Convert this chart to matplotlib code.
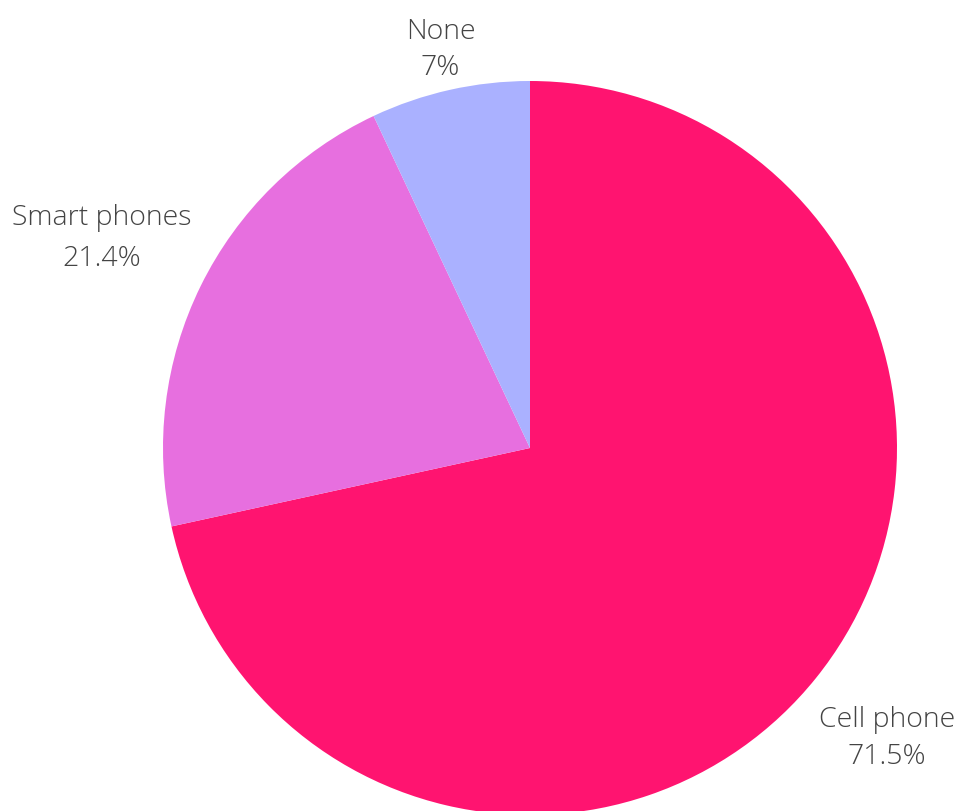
import numpy as np
import matplotlib.pyplot as plt

categories = ["Cell phone", "Smart phones", "None"]
shares = [71.5, 21.4, 7.0]
colors = ["#FF1470", "#E76FDF", "#AAB1FF"]

W, H = 958, 812
fig = plt.figure(figsize=(W / 100, H / 100), dpi=100)
ax = fig.add_axes([0, 0, 1, 1])

cx, cy, r = 530, H - 449, 367
wedges, _ = ax.pie(shares, colors=colors, startangle=90, counterclock=False,
                   center=(cx, cy), radius=r, frame=True,
                   wedgeprops=dict(linewidth=0))
ax.set_xlim(0, W)
ax.set_ylim(0, H)
ax.set_aspect("equal")
ax.axis("off")

# label placement: distance from centre (in radii), angular nudge (deg), line spacing
label_dist = [1.252, 1.300, 1.115]
label_nudge = [-0.2, 0.1, 0.0]
label_spacing = [1.43, 1.62, 1.39]
for w, name, val, d, nudge, ls in zip(wedges, categories, shares,
                                      label_dist, label_nudge, label_spacing):
    mid = np.deg2rad((w.theta1 + w.theta2) / 2 + nudge)
    x = cx + d * r * np.cos(mid)
    y = cy + d * r * np.sin(mid)
    ax.text(x, y, f"{name}\n{val:g}%", ha="center", va="center",
            fontsize=20.5, family=["Open Sans", "DejaVu Sans"], fontweight="light",
            color="#444444", linespacing=ls)

fig.savefig("out.png", dpi=100)
